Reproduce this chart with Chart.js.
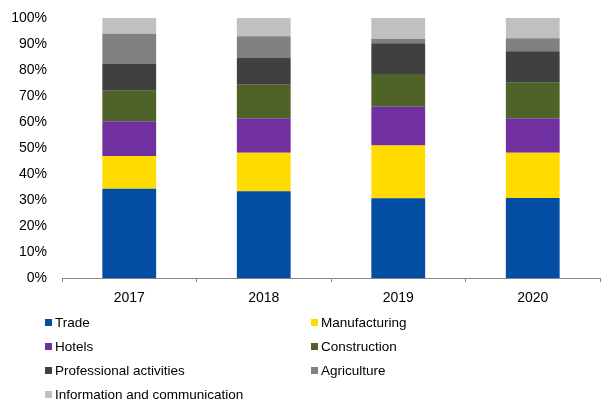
<!DOCTYPE html>
<html>
<head>
<meta charset="utf-8">
<script src="https://cdn.jsdelivr.net/npm/chart.js@4"></script>
<style>
  body { margin: 0; background: #fff; }
  #wrap { position: relative; width: 601px; height: 401px; }
  #legend {
    position: absolute; left: 45px; top: 310px;
    display: grid; grid-template-columns: 266px 266px; grid-auto-rows: 24px;
    font: 13.5px "Liberation Sans", Arial, sans-serif; color: #000;
  }
  #legend div { display: flex; align-items: center; white-space: nowrap; }
  #legend span.box { width: 7px; height: 7px; margin-right: 3px; margin-top: 1px; }
</style>
</head>
<body>
<div id="wrap">
  <canvas id="chart" width="601" height="401"></canvas>
  <div id="legend"></div>
</div>
<script>
const years = ['2017', '2018', '2019', '2020'];

const sectors = ['Trade', 'Manufacturing', 'Hotels', 'Construction',
  'Professional activities', 'Agriculture', 'Information and communication'];
const colors = ['#034EA2', '#FFDB00', '#7030A0', '#4F6228', '#404040', '#808080', '#C0C0C0'];

// share of each sector, % per year
const trade = [34.4, 33.4, 30.7, 30.8];
const manufacturing = [12.6, 14.8, 20.3, 17.4];
const hotels = [13.3, 13.3, 14.9, 13.3];
const construction = [11.7, 12.8, 12.6, 13.6];
const professional = [10.3, 10.3, 11.8, 12.1];
const agriculture = [11.6, 8.4, 1.7, 5.0];
const infoComm = [6.1, 7.0, 8.0, 7.8];

const series = [trade, manufacturing, hotels, construction, professional, agriculture, infoComm];

const datasets = series.map((vals, i) => ({
  label: sectors[i],
  data: vals,
  backgroundColor: colors[i],
  borderWidth: 0,
  barPercentage: 0.4,
  categoryPercentage: 1
}));

const font = { family: '"Liberation Sans", Arial, sans-serif', size: 14 };

new Chart(document.getElementById('chart').getContext('2d'), {
  type: 'bar',
  data: { labels: years, datasets: datasets },
  options: {
    responsive: false,
    animation: false,
    layout: { padding: { top: 18, right: 1, bottom: 86, left: 0 } },
    plugins: { legend: { display: false }, tooltip: { enabled: false } },
    scales: {
      x: {
        stacked: true,
        offset: true,
        grid: { offset: true, drawOnChartArea: false, drawTicks: true, tickLength: 4, color: '#868686' },
        border: { color: '#868686' },
        ticks: { color: '#000', font: font, padding: 8, maxRotation: 0 }
      },
      y: {
        stacked: true,
        min: 0,
        max: 100,
        grid: { display: false, drawTicks: false },
        border: { display: false },
        ticks: {
          stepSize: 10,
          color: '#000',
          font: font,
          padding: 15,
          callback: v => v + '%'
        },
        afterFit: s => {
          s.width = 62;
          // tick padding is horizontal only here, drop it from the top overhang
          s.paddingTop = 9;
          s.paddingBottom = 0;
        }
      }
    }
  }
});

// two-column legend
const legend = document.getElementById('legend');
sectors.forEach((name, i) => {
  const item = document.createElement('div');
  const box = document.createElement('span');
  box.className = 'box';
  box.style.background = colors[i];
  item.appendChild(box);
  item.appendChild(document.createTextNode(name));
  legend.appendChild(item);
});
</script>
</body>
</html>
